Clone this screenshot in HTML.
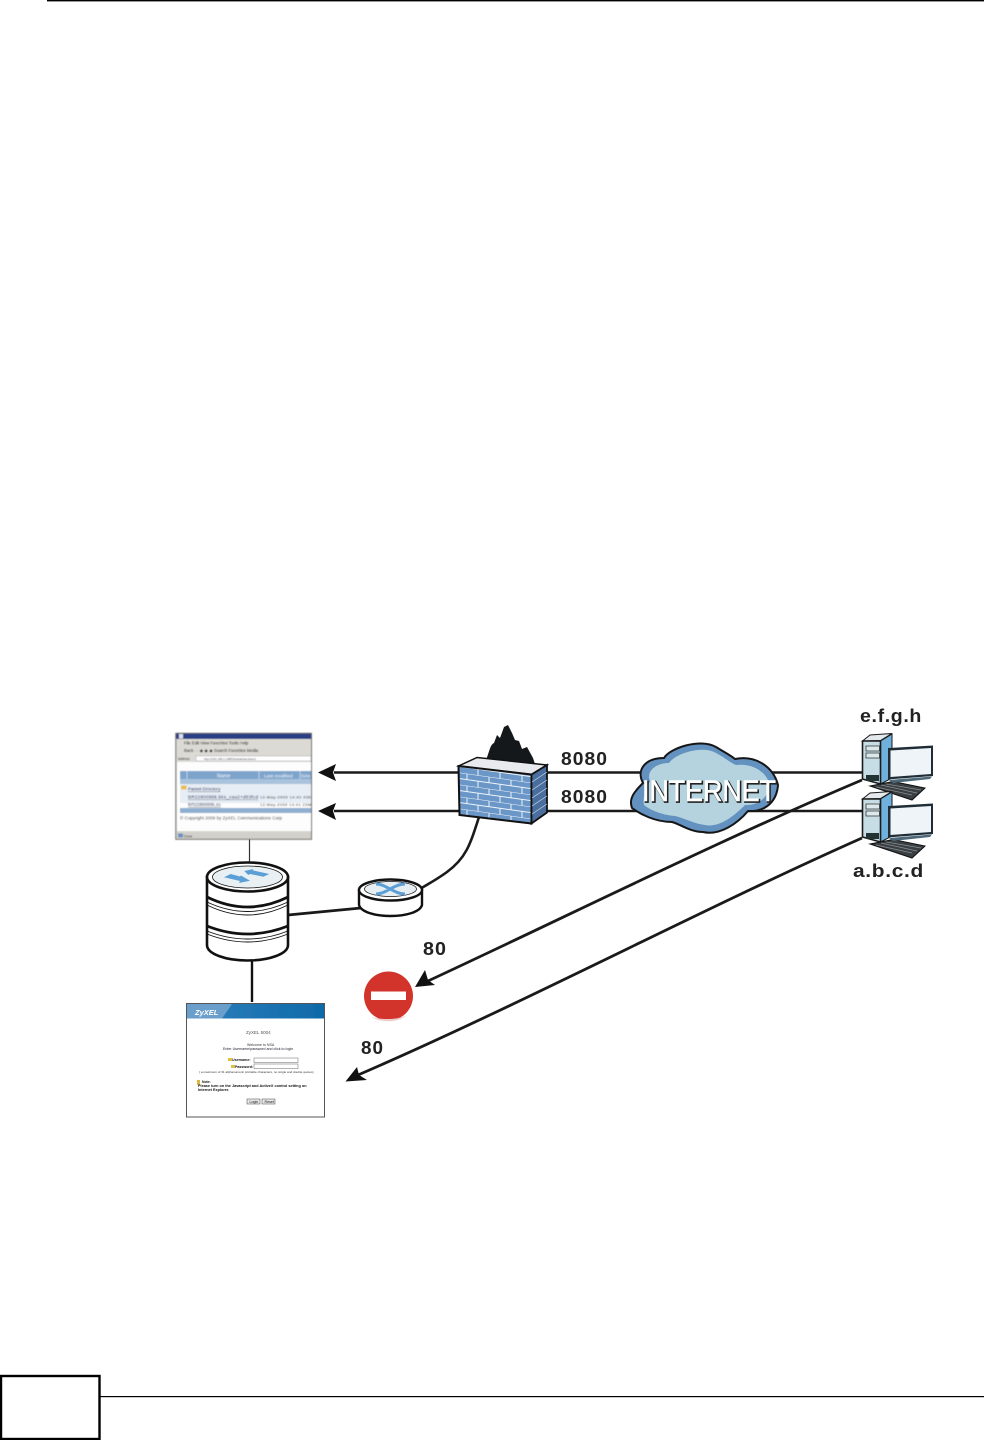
<!DOCTYPE html>
<html><head><meta charset="utf-8">
<style>html,body{margin:0;padding:0;background:#fff}svg{display:block}text{font-family:"Liberation Sans",sans-serif}</style>
</head><body>
<svg width="984" height="1440" viewBox="0 0 984 1440" xmlns="http://www.w3.org/2000/svg">
<defs>
<filter id="soft" x="-5%" y="-5%" width="110%" height="110%"><feGaussianBlur stdDeviation="0.4"/></filter>
<filter id="soft2" x="-5%" y="-5%" width="110%" height="110%"><feGaussianBlur stdDeviation="0.3"/></filter>
<pattern id="brick" width="22" height="12" patternUnits="userSpaceOnUse" patternTransform="skewY(8)">
<rect width="22" height="12" fill="#6a97c8"/>
<path d="M0 0H22M0 6H22M5 0V6M16 6V12" stroke="#eef3f7" stroke-width="1" fill="none"/>
</pattern>
<linearGradient id="hdr" x1="0" x2="1" y1="0" y2="0"><stop offset="0" stop-color="#2f7fbd"/><stop offset="1" stop-color="#0f6aa8"/></linearGradient>
<g id="pc">
<path d="M870 786L893 781.500L925 788L912 800Z" fill="#3a3f42" stroke="#111" stroke-width="1"/>
<path d="M876 787L912 795M881 785L917 793M886 784L921 790" stroke="#8a9095" stroke-width=".7" fill="none"/>
<path d="M862.500 741L870 735L892 733.500L880.500 740.500Z" fill="#e3e9ec" stroke="#1a1a1a" stroke-width="1"/>
<path d="M880.500 741L892 734V778L880.500 784Z" fill="#6fb0dc" stroke="#1a1a1a" stroke-width="1"/>
<path d="M862.500 741H880.500V784L862.500 779Z" fill="#c6dde6" stroke="#1a1a1a" stroke-width="1.600"/>
<path d="M866 746H879.500V751H866ZM866 753H879.500V758H866Z" fill="#dbe8ec" stroke="#333" stroke-width=".8"/>
<rect x="866" y="775" width="13" height="6" fill="#233"/>
<path d="M888 748L933 745.500V776L888 779.500Z" fill="#1f2d36"/>
<path d="M890.500 750.500L931 748V774L890.500 777Z" fill="#eef4f8"/>
<path d="M889 780L932 776.500L930 779L893 783Z" fill="#4c6878"/>
</g>
</defs>
<rect width="984" height="1440" fill="#fff"/>
<rect x="47" y="0" width="937" height="1.400" fill="#000"/>

<!-- connectors -->
<line x1="334" y1="772.500" x2="862" y2="772.500" stroke="#1a1a1a" stroke-width="2.600"/>
<line x1="334" y1="811" x2="862" y2="811" stroke="#1a1a1a" stroke-width="2.600"/>
<path d="M318 772.500L336 764L333 772.500L336 781Z" fill="#111"/>
<path d="M318 811L336 803L333 811L336 820Z" fill="#111"/>
<path d="M479 817C470 845 466 858 447 872C436 880 428 884 420 889" fill="none" stroke="#1a1a1a" stroke-width="2.600"/>
<path d="M288 915L361 908" fill="none" stroke="#1a1a1a" stroke-width="2.800"/>
<line x1="249.500" y1="839" x2="249.500" y2="863" stroke="#333" stroke-width="1.200"/>
<line x1="252" y1="961" x2="252" y2="1002" stroke="#111" stroke-width="2.400"/>
<path d="M862 780C720 840 570 915 428 981" fill="none" stroke="#1a1a1a" stroke-width="2.800"/>
<path d="M862 838C700 910 520 1005 358 1075" fill="none" stroke="#1a1a1a" stroke-width="2.800"/>
<path d="M415 987L425 970L428 980L435 985Z" fill="#111"/>
<path d="M345.500 1081.500L357 1067L359 1075L367 1080Z" fill="#111"/>

<!-- browser window -->
<g filter="url(#soft)">
<rect x="175.500" y="733" width="136" height="106.500" fill="#d8d6d0"/>
<rect x="176" y="733.500" width="135" height="5.500" fill="#2c3f86"/>
<rect x="179" y="734" width="4" height="4.500" fill="#dde"/>
<rect x="177" y="739" width="134" height="23" fill="#dcdad4"/>
<text x="184" y="744.500" font-size="4.200" fill="#111">File  Edit  View  Favorites  Tools  Help</text>
<text x="184" y="752" font-size="4.200" fill="#111">Back  ·  ·   ◉ ◉ ◉  Search  Favorites  Media</text>
<rect x="196" y="756" width="115" height="5" fill="#fff" stroke="#99a" stroke-width=".4"/>
<text x="178" y="760" font-size="3.200" fill="#222">Address</text>
<text x="204" y="760" font-size="3" fill="#334">http://192.168.1.1/BRS/ethdef/ambient/</text>
<rect x="177" y="762" width="134" height="69" fill="#fdfdfd"/>
<rect x="180" y="771" width="131" height="8" fill="#7ea4cc"/>
<rect x="180" y="779" width="131" height="5" fill="#a9c3dc"/>
<rect x="180" y="784" width="131" height="19" fill="#e6edf4"/>
<rect x="180" y="808" width="131" height="5" fill="#8eafd0"/>
<line x1="187" y1="771" x2="187" y2="779" stroke="#e8eef4" stroke-width=".6"/>
<line x1="259" y1="771" x2="259" y2="779" stroke="#e8eef4" stroke-width=".6"/>
<line x1="300" y1="771" x2="300" y2="779" stroke="#e8eef4" stroke-width=".6"/>
<text x="217" y="777.500" font-size="5" fill="#f2f6fa">Name</text>
<text x="264" y="777.500" font-size="4.800" fill="#f2f6fa">Last modified</text>
<text x="301" y="777.500" font-size="4.800" fill="#f2f6fa">Size</text>
<rect x="181" y="785.500" width="5.500" height="4" fill="#e8c04a"/>
<text x="188" y="790.500" font-size="4.500" fill="#0f1f50" text-decoration="underline">Parent Directory</text>
<text x="188" y="798.500" font-size="4.600" fill="#0f1f50" text-decoration="underline" textLength="70">BR2280088k.bks_cau2+d83fcd</text>
<text x="260" y="798.500" font-size="4" fill="#222" textLength="51">12-May-2009 14:40  43K</text>
<text x="188" y="806" font-size="4.600" fill="#0f1f50" text-decoration="underline">BR2280088k.zo</text>
<text x="260" y="806" font-size="4" fill="#222" textLength="51">12-May-2009 14:41  23M</text>
<text x="180" y="819.500" font-size="4.500" fill="#333" textLength="102">© Copyright 2009 by ZyXEL Communications Corp</text>
<rect x="177" y="832" width="134" height="6.500" fill="#d2d0ca"/>
<rect x="178" y="833.500" width="5" height="4" fill="#6a93c4"/>
<text x="184" y="837.500" font-size="3.500" fill="#333">Done</text>
<rect x="175.800" y="733.300" width="135.700" height="106" fill="none" stroke="#6a6a68" stroke-width="1"/>
</g>

<!-- database stack -->
<g stroke="#111" fill="#fff">
<path d="M207 877V945C207 954 226 960.500 247.500 960.500C269 960.500 288 954 288 945V877Z" stroke-width="2.600"/>
<path d="M207 881Q247.500 903 288 881" fill="none" stroke-width=".9"/>
<path d="M207 897Q247.500 917 288 897" fill="none" stroke-width="2.800"/>
<path d="M207 902Q247.500 921 288 902" fill="none" stroke-width=".9"/>
<path d="M207 905Q247.500 925 288 905" fill="none" stroke-width=".9"/>
<path d="M207 926Q247.500 942 288 926" fill="none" stroke-width="2.800"/>
<path d="M207 931Q247.500 947 288 931" fill="none" stroke-width=".9"/>
<path d="M207 934Q247.500 950 288 934" fill="none" stroke-width=".9"/>
<ellipse cx="247.500" cy="877" rx="40.500" ry="14.500" stroke-width="2.600"/>
<ellipse cx="247.500" cy="877" rx="35" ry="11" fill="#e8f0f4" stroke-width=".8"/>
</g>
<path d="M224 877.300L230.700 874L240 876.500L241 875.500L250 880.700L239 883L240 881Z" fill="#5b9fd6"/>
<path d="M244.300 871L253.300 869L252.700 870.300L269.300 874L263.300 876.700L250 874L248.300 875Z" fill="#5b9fd6"/>

<!-- router -->
<g stroke="#111" fill="#fff">
<path d="M359 890V905C361 912 375 916 390.500 916C406 916 420 912 422 905V890Z" stroke-width="2.400"/>
<path d="M359 893Q390.500 909 422 893" fill="none" stroke-width=".8"/>
<ellipse cx="390.500" cy="890" rx="31.500" ry="10.500" stroke-width="2.400"/>
<ellipse cx="390.500" cy="889" rx="26" ry="7.500" fill="#e6eef2" stroke-width=".7"/>
</g>
<path d="M376 884C386 884 394 894 405 894M376 894C386 894 394 884 405 884" fill="none" stroke="#5b9fd6" stroke-width="3"/>

<!-- firewall -->
<path d="M486 760C490 750 490 745 494 743L497 735L500 738L504 727L508 725L512 733L515 740L519 741L522 749L527 747L533 758L535 764Z" fill="#15181a"/>
<path d="M458.500 766L477 757.500L547 765L531.500 774.500Z" fill="#e8eaee" stroke="#111" stroke-width="1.500"/>
<path d="M458.500 766L531.500 774.500V823.500L459.500 815Z" fill="url(#brick)" stroke="#111" stroke-width="2"/>
<path d="M531.500 774.500L547 765V812.500L531.500 823.500Z" fill="#4a6f9e" stroke="#111" stroke-width="1.800"/>
<path d="M532 782L547 772M532 790L547 780M532 798L547 788M532 806L547 796M532 814L547 804" stroke="#cfdde8" stroke-width=".6" fill="none"/>

<!-- cloud -->
<path d="M643 783C636 770 645 758 664 758C670 748 700 738 716 747C724 752 730 755 735 759C755 755 773 766 778 785C777 799 768 812 748 811C738 823 720 836 703 832C690 832 680 824 672 822C655 822 640 814 632 808C628 798 636 790 643 783Z" fill="#6392c0" stroke="#161616" stroke-width="2"/>
<path d="M650 781C646 772 655 763 669 763C676 753 703 745 716 753C724 757 729 762 736 765C752 763 766 771 770 785C769 795 760 806 745 805C735 815 720 828 705 825C695 824 684 818 675 816C662 815 650 810 644 805C642 797 647 788 650 781Z" fill="#b5d3df"/>
<text x="643" y="802" font-size="30" fill="#222" stroke="#222" stroke-width="1.800" textLength="134" lengthAdjust="spacingAndGlyphs">INTERNET</text>
<text x="642" y="801" font-size="30" fill="#fff" stroke="#fff" stroke-width=".5" textLength="134" lengthAdjust="spacingAndGlyphs">INTERNET</text>

<!-- computers -->
<use href="#pc"/>
<use href="#pc" y="58"/>

<!-- labels -->
<text x="561" y="765" font-size="18.500" font-weight="bold" fill="#222" letter-spacing="1" textLength="47" lengthAdjust="spacingAndGlyphs">8080</text>
<text x="561" y="803" font-size="18.500" font-weight="bold" fill="#222" letter-spacing="1" textLength="47" lengthAdjust="spacingAndGlyphs">8080</text>
<text x="860" y="722" font-size="18.500" font-weight="bold" fill="#222" letter-spacing=".6" textLength="62" lengthAdjust="spacingAndGlyphs">e.f.g.h</text>
<text x="853" y="877" font-size="18.500" font-weight="bold" fill="#222" letter-spacing=".6" textLength="71" lengthAdjust="spacingAndGlyphs">a.b.c.d</text>
<text x="423" y="955" font-size="18.500" font-weight="bold" fill="#222" letter-spacing="1" textLength="24" lengthAdjust="spacingAndGlyphs">80</text>
<text x="361" y="1054" font-size="18.500" font-weight="bold" fill="#222" letter-spacing="1" textLength="23" lengthAdjust="spacingAndGlyphs">80</text>

<!-- stop sign -->
<circle cx="388.500" cy="996" r="24.500" fill="#d2332b"/>
<path d="M371 1017C382 1023 398 1023 407 1015C398 1020 382 1020 371 1017Z" fill="#ecc"/>
<rect x="371" y="991.500" width="35" height="8.500" fill="#fff"/>

<!-- login window -->
<g filter="url(#soft2)">
<rect x="186.500" y="1003.500" width="138" height="113.500" fill="#fff" stroke="#555" stroke-width="1"/>
<rect x="187" y="1004" width="137" height="14.500" fill="url(#hdr)"/>
<path d="M187 1004H232L222 1018.500H187Z" fill="#6a9fcb"/>
<text x="195" y="1015" font-size="7.500" font-weight="bold" font-style="italic" fill="#fff">ZyXEL</text>
<text x="246" y="1034" font-size="4.500" fill="#555">ZyXEL 5004</text>
<text x="247" y="1046" font-size="3.600" fill="#333">Welcome to NSA</text>
<text x="223" y="1050" font-size="3.600" fill="#223">Enter Username/password and click to login</text>
<rect x="228" y="1058" width="4" height="3" fill="#e0c040"/>
<text x="232" y="1061" font-size="3.600" font-weight="bold" fill="#111">Username:</text>
<rect x="254" y="1058" width="44" height="4.500" fill="#fff" stroke="#666" stroke-width=".5"/>
<rect x="231" y="1065" width="4" height="3" fill="#e0c040"/>
<text x="235" y="1068" font-size="3.600" font-weight="bold" fill="#111">Password:</text>
<rect x="254" y="1064" width="44" height="4.500" fill="#fff" stroke="#666" stroke-width=".5"/>
<text x="199" y="1073" font-size="3.100" fill="#333">( a maximum of 31 alphanumeric printable characters, no single and double quotes)</text>
<rect x="197" y="1080" width="3" height="5" fill="#d8b840"/>
<text x="202" y="1083" font-size="3.400" font-weight="bold" fill="#111">Note:</text>
<text x="198" y="1087" font-size="3.800" font-weight="bold" fill="#111">Please turn on the Javascript and ActiveX control setting on</text>
<text x="198" y="1091" font-size="3.800" font-weight="bold" fill="#111">Internet Explorer.</text>
<rect x="247" y="1099" width="13" height="5" fill="#e8e8e8" stroke="#444" stroke-width=".5"/>
<rect x="262" y="1099" width="13" height="5" fill="#e8e8e8" stroke="#444" stroke-width=".5"/>
<text x="249.500" y="1103" font-size="3.600" fill="#111">Login</text>
<text x="264.500" y="1103" font-size="3.600" fill="#111">Reset</text>
</g>

<!-- footer -->
<rect x="1" y="1376" width="98.500" height="63" fill="#fff" stroke="#000" stroke-width="2.400"/>
<rect x="100" y="1396" width="884" height="1.200" fill="#000"/>
</svg>
</body></html>
